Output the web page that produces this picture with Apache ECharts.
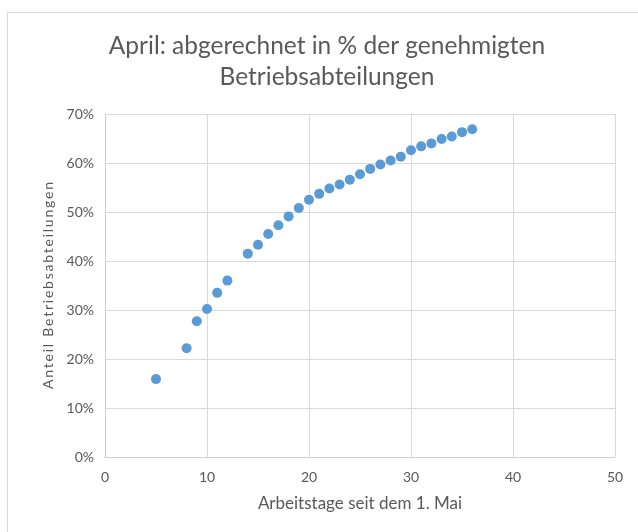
<!DOCTYPE html>
<html>
<head>
<meta charset="utf-8">
<script src="https://cdn.jsdelivr.net/npm/echarts@6/dist/echarts.min.js"></script>
<style>
  html, body { margin: 0; padding: 0; background: #fff; }
  #chart { width: 638px; height: 532px; }
</style>
</head>
<body>
<div id="chart"></div>
<script>
// Arbeitstage seit dem 1. Mai
const tage = [5, 8, 9, 10, 11, 12, 14, 15, 16, 17, 18, 19, 20, 21, 22, 23, 24, 25, 26, 27, 28, 29, 30, 31, 32, 33, 34, 35, 36]
// Anteil abgerechnet in %
const anteil = [15.9, 22.2, 27.7, 30.2, 33.5, 36.0, 41.5, 43.3, 45.5, 47.3, 49.1, 50.8, 52.5, 53.7, 54.8, 55.6, 56.6, 57.7, 58.8, 59.7, 60.5, 61.3, 62.6, 63.4, 64.0, 64.9, 65.4, 66.3, 66.9]

const font = 'Lato, "Open Sans", sans-serif'
const grey = '#595959'

// y-Achsentitel ist im Original gesperrt gesetzt
const spaced = s => s.split('').join('\u2009')

const chart = echarts.init(document.getElementById('chart'))
chart.setOption({
  animation: false,
  title: {
    text: 'April: abgerechnet in % der genehmigten\nBetriebsabteilungen',
    left: 322,
    textAlign: 'center',
    top: 26,
    textStyle: {
      fontFamily: font,
      fontSize: 24.5,
      fontWeight: 'normal',
      color: grey,
      lineHeight: 31
    }
  },
  graphic: [{
    type: 'rect',
    shape: { x: 7.5, y: 12.5, width: 700, height: 600 },
    style: { fill: 'none', stroke: '#d9d9d9', lineWidth: 1 },
    silent: true
  }],
  grid: { left: 105, right: 23, top: 114, bottom: 75 },
  xAxis: {
    type: 'value',
    min: 0,
    max: 50,
    interval: 10,
    name: 'Arbeitstage seit dem 1. Mai',
    nameLocation: 'middle',
    nameGap: 38,
    nameTextStyle: { fontFamily: font, fontSize: 17, color: grey },
    axisLine: { show: true, lineStyle: { color: '#d0d0d0' } },
    axisTick: { show: false },
    axisLabel: { fontFamily: font, fontSize: 14, color: grey, margin: 13 },
    splitLine: { lineStyle: { color: '#d9d9d9' } }
  },
  yAxis: {
    type: 'value',
    min: 0,
    max: 70,
    interval: 10,
    name: spaced('Anteil Betriebsabteilungen'),
    nameLocation: 'middle',
    nameGap: 48,
    nameTextStyle: { fontFamily: font, fontSize: 14, color: grey },
    axisLine: { show: true, lineStyle: { color: '#d0d0d0' } },
    axisTick: { show: false },
    axisLabel: { fontFamily: font, fontSize: 14, color: grey, margin: 11, formatter: '{value}%' },
    splitLine: { lineStyle: { color: '#d9d9d9' } }
  },
  series: [{
    type: 'scatter',
    symbol: 'circle',
    symbolSize: 10,
    itemStyle: { color: '#5b9bd5', opacity: 1 },
    data: tage.map((t, i) => [t, anteil[i]])
  }]
})
</script>
</body>
</html>
